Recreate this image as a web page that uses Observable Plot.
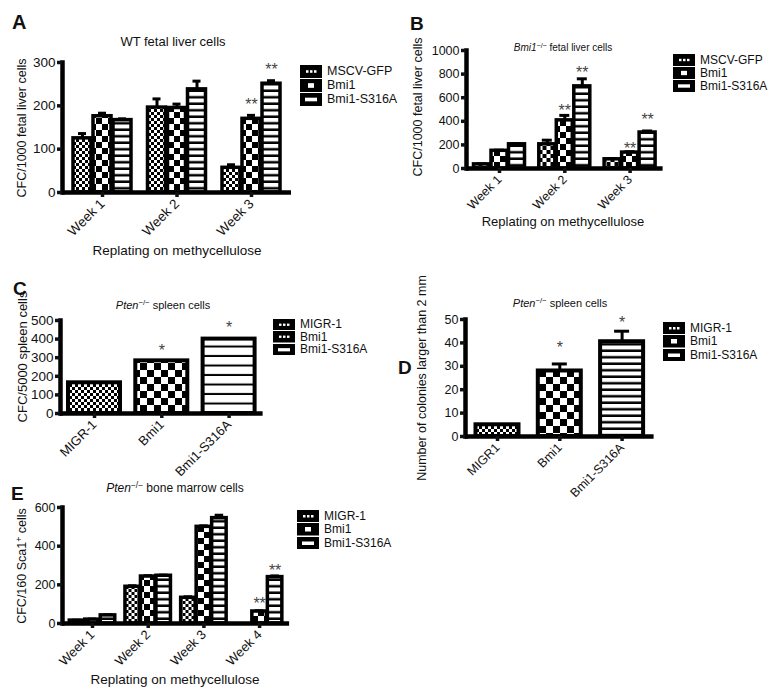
<!DOCTYPE html>
<html><head><meta charset="utf-8">
<script src="https://cdn.jsdelivr.net/npm/d3@7"></script>
<script src="https://cdn.jsdelivr.net/npm/@observablehq/plot@0.6"></script>
<style>
body{margin:0;background:#fff;font-family:"Liberation Sans",Arial,sans-serif;color:#111;}
#fig{position:relative;width:772px;height:693px;overflow:hidden;background:#fff;}
.abs{position:absolute;white-space:nowrap;line-height:1;}
.c{transform:translate(-50%,-50%);}
.yl{transform:translate(-50%,-50%) rotate(-90deg);}
.letter{font-weight:bold;font-size:20px;}
.leg{position:absolute;font-size:12px;line-height:1;}
.leg .row{display:flex;align-items:center;height:13.5px;}
.leg svg{margin-right:5px;display:block;}
sup{font-size:0.7em;vertical-align:0.45em;line-height:0;}
.plotbox{position:absolute;}
</style></head><body>
<svg width="0" height="0" style="position:absolute">
<defs>
<pattern id="pChk3" width="6" height="6" patternUnits="userSpaceOnUse"><rect width="6" height="6" fill="#000"/><rect width="3" height="3" fill="#fff"/><rect x="3" y="3" width="3" height="3" fill="#fff"/></pattern>
<pattern id="pChk4" width="8" height="8" patternUnits="userSpaceOnUse"><rect width="8" height="8" fill="#000"/><rect width="4" height="4" fill="#fff"/><rect x="4" y="4" width="4" height="4" fill="#fff"/></pattern>
<pattern id="pChk6" width="12" height="12" patternUnits="userSpaceOnUse"><rect width="12" height="12" fill="#000"/><rect width="6" height="6" fill="#fff"/><rect x="6" y="6" width="6" height="6" fill="#fff"/></pattern>
<pattern id="pChk7" width="14" height="14" patternUnits="userSpaceOnUse"><rect width="14" height="14" fill="#000"/><rect width="7" height="7" fill="#fff"/><rect x="7" y="7" width="7" height="7" fill="#fff"/></pattern>
<pattern id="pStr6" width="6" height="6.5" patternUnits="userSpaceOnUse"><rect width="6" height="6.5" fill="#000"/><rect y="0" width="6" height="4" fill="#fff"/></pattern>
<pattern id="pStr9" width="6" height="9.5" patternUnits="userSpaceOnUse"><rect width="6" height="9.5" fill="#000"/><rect y="0" width="6" height="7.5" fill="#fff"/></pattern>
</defs></svg>
<div id="fig"></div>
<script>
// ---------------- DATA ----------------
// Panel A: WT fetal liver cells
const groupsA = ["Week 1", "Week 2", "Week 3"];
const seriesA = ["MSCV-GFP", "Bmi1", "Bmi1-S316A"];
const meanA  = [[125, 196, 57], [176, 195, 170], [167, 238, 251]];
const upperA = [[136, 216, 64], [183, 204, 178], [170, 257, 258]];
const starsA = [["Week 3", "Bmi1", "**", 212], ["Week 3", "Bmi1-S316A", "**", 293]];
const yTicksA = [0, 100, 200, 300];

// Panel B: Bmi1-/- fetal liver cells
const groupsB = ["Week 1", "Week 2", "Week 3"];
const seriesB = ["MSCV-GFP", "Bmi1", "Bmi1-S316A"];
const meanB  = [[35, 205, 78], [150, 408, 135], [205, 696, 305]];
const upperB = [[38, 240, 85], [155, 450, 142], [210, 760, 318]];
const starsB = [["Week 2", "Bmi1", "**", 521], ["Week 2", "Bmi1-S316A", "**", 845],
                ["Week 3", "Bmi1", "**", 197], ["Week 3", "Bmi1-S316A", "**", 442]];
const yTicksB = [0, 200, 400, 600, 800, 1000];

// Panel C: Pten-/- spleen cells (CFC)
const groupsC = ["MIGR-1", "Bmi1", "Bmi1-S316A"];
const legendC = ["MIGR-1", "Bmi1", "Bmi1-S316A"];
const meanC  = [165, 283, 400];
const upperC = [165, 283, 400];
const starsC = [["Bmi1", "Bmi1", "*", 357], ["Bmi1-S316A", "Bmi1-S316A", "*", 482]];
const yTicksC = [0, 100, 200, 300, 400, 500];

// Panel D: Pten-/- spleen cells (colonies > 2 mm)
const groupsD = ["MIGR1", "Bmi1", "Bmi1-S316A"];
const legendD = ["MIGR-1", "Bmi1", "Bmi1-S316A"];
const meanD  = [5, 28, 40.5];
const upperD = [5, 31, 45];
const starsD = [["Bmi1", "Bmi1", "*", 39.7], ["Bmi1-S316A", "Bmi1-S316A", "*", 50.4]];
const yTicksD = [0, 10, 20, 30, 40, 50];

// Panel E: Pten-/- bone marrow cells
const groupsE = ["Week 1", "Week 2", "Week 3", "Week 4"];
const seriesE = ["MIGR-1", "Bmi1", "Bmi1-S316A"];
const meanE  = [[15, 190, 133, 0], [20, 243, 500, 62], [42, 247, 545, 240]];
const upperE = [[17, 195, 138, 0], [23, 247, 505, 66], [45, 250, 560, 246]];
const starsE = [["Week 4", "Bmi1", "**", 120], ["Week 4", "Bmi1-S316A", "**", 293]];
const yTicksE = [0, 200, 400, 600];

// ---------------- BUILD ----------------
const fig = document.getElementById("fig");

function groupedRows(groups, series, mean, upper) {
  const rows = [];
  series.forEach((s, k) => groups.forEach((g, i) => rows.push({group: g, series: s, value: mean[k][i], err: upper[k][i]})));
  return rows;
}
function singleRows(groups, mean, upper) {
  return groups.map((g, i) => ({group: g, series: g, value: mean[i], err: upper[i]}));
}
function starRows(stars) {
  return stars.map(([group, series, text, y]) => ({group, series, text, y}));
}

function panel(L, groups, series, rows, stars, yTicks) {
  const n = groups.length;
  const pi = 1 - L.w / L.step;
  const po = (L.c0 - L.x0 - L.w / 2) / L.step;
  const x1 = L.x0 + L.step * (n - pi + 2 * po);
  const width = Math.ceil(x1 + 14 - L.left);
  const height = Math.ceil(L.yBottom + 62 - L.top);
  const ns = series.length;
  const marks = [];
  series.forEach((s, k) => {
    const dx = L.off * (k - (ns - 1) / 2);
    const sub = rows.filter(d => d.series === s);
    const errs = sub.filter(d => d.err > d.value);
    marks.push(Plot.ruleX(errs, {x: "group", y1: "value", y2: "err", dx, stroke: "#000", strokeWidth: 3}));
    marks.push(Plot.tickY(errs, {x: "group", y: "err", dx, stroke: "#000", strokeWidth: 3, insetLeft: L.capInset, insetRight: L.capInset}));
    marks.push(Plot.barY(sub, {x: "group", y: "value", dx, fill: `url(#${L.pats[k]})`, stroke: "#000", strokeWidth: L.sw, insetLeft: 0, insetRight: 0}));
    const st = stars.filter(d => d.series === s);
    marks.push(Plot.text(st, {x: "group", y: "y", text: "text", dx, dy: 4, fontSize: 16, fill: "#444", lineAnchor: "middle"}));
  });
  marks.push(Plot.ruleY([0], {stroke: "#000", strokeWidth: 4.5}));
  marks.push(Plot.frame({anchor: "left", stroke: "#000", strokeWidth: 4.5}));
  marks.push(Plot.axisY({ticks: yTicks, tickFormat: d => String(d), tickSize: 5, tickPadding: 2, strokeWidth: 3.5, fontSize: L.tickFont, label: null}));
  marks.push(Plot.axisX({tickSize: 5, tickPadding: 4, strokeWidth: 3.5, tickRotate: -45, fontSize: L.xFont, label: null}));
  const svg = Plot.plot({
    width, height,
    marginLeft: L.x0 - L.left,
    marginRight: L.left + width - x1,
    marginTop: L.yTop - L.top,
    marginBottom: L.top + height - L.yBottom,
    style: {background: "transparent", fontFamily: "'Liberation Sans', Arial, sans-serif", color: "#111", overflow: "visible"},
    x: {domain: groups, paddingInner: pi, paddingOuter: po, round: false, label: null},
    y: {domain: [0, yTicks[yTicks.length - 1]], label: null},
    marks
  });
  const box = document.createElement("div");
  box.className = "plotbox";
  box.style.left = L.left + "px";
  box.style.top = L.top + "px";
  box.appendChild(svg);
  fig.appendChild(box);
}

function text(html, x, y, cls, size, extra) {
  const d = document.createElement("div");
  d.className = "abs " + cls;
  d.style.left = x + "px";
  d.style.top = y + "px";
  d.style.fontSize = size + "px";
  if (extra) Object.assign(d.style, extra);
  d.innerHTML = html;
  fig.appendChild(d);
}

function legend(labels, kinds, x, y, size, rowH) {
  const d = document.createElement("div");
  d.className = "leg";
  d.style.left = x + "px";
  d.style.top = y + "px";
  d.style.fontSize = size + "px";
  labels.forEach((lab, i) => {
    const r = document.createElement("div");
    r.className = "row";
    r.style.height = rowH + "px";
    let inner = "";
    if (kinds[i] === "dots") inner = '<rect x="6" y="5" width="2.5" height="2.5" fill="#fff"/><rect x="10" y="5" width="2.5" height="2.5" fill="#fff"/><rect x="14" y="5" width="2.5" height="2.5" fill="#fff"/>';
    else if (kinds[i] === "square") inner = '<rect x="8" y="4" width="6" height="4.5" fill="#fff"/>';
    else inner = '<rect x="5" y="4.5" width="12" height="3.5" fill="#fff"/>';
    r.innerHTML = `<svg width="22" height="${rowH - 1}" viewBox="0 0 22 12.5" preserveAspectRatio="none"><rect width="22" height="12.5" fill="#000"/>${inner}</svg><span>${lab}</span>`;
    d.appendChild(r);
  });
  fig.appendChild(d);
}

// layouts (positions / sizes, kept apart from the data)
const LA = {left: 0, top: 40, x0: 62, yTop: 62, yBottom: 192, c0: 102, step: 74.5, w: 18, off: 20, tickFont: 13.5, xFont: 13.5, sw: 3.5, capInset: 5, pats: ["pChk3", "pChk6", "pStr6"]};
const LB = {left: 392, top: 30, x0: 466, yTop: 50, yBottom: 168, c0: 499, step: 65.3, w: 16, off: 17.5, tickFont: 12.5, xFont: 12.5, sw: 3.5, capInset: 3, pats: ["pChk4", "pChk6", "pStr6"]};
const LC = {left: 0, top: 300, x0: 60, yTop: 320, yBottom: 413, c0: 94, step: 67.3, w: 52, off: 0, tickFont: 13.5, xFont: 13, sw: 4, capInset: 18, pats: ["pChk3", "pChk7", "pStr9"]};
const LD = {left: 392, top: 300, x0: 465, yTop: 319, yBottom: 436, c0: 497, step: 62.3, w: 43, off: 0, tickFont: 12.5, xFont: 12.5, sw: 4, capInset: 14, pats: ["pChk3", "pChk7", "pStr6"]};
const LE = {left: 0, top: 490, x0: 62, yTop: 507, yBottom: 623, c0: 92, step: 55.7, w: 14.5, off: 15.5, tickFont: 12.5, xFont: 13, sw: 3.5, capInset: 3, pats: ["pChk3", "pChk6", "pStr6"]};

panel(LA, groupsA, seriesA, groupedRows(groupsA, seriesA, meanA, upperA), starRows(starsA), yTicksA);
panel(LB, groupsB, seriesB, groupedRows(groupsB, seriesB, meanB, upperB), starRows(starsB), yTicksB);
panel(LC, groupsC, groupsC, singleRows(groupsC, meanC, upperC), starRows(starsC), yTicksC);
panel(LD, groupsD, groupsD, singleRows(groupsD, meanD, upperD), starRows(starsD), yTicksD);
panel(LE, groupsE, seriesE, groupedRows(groupsE, seriesE, meanE, upperE), starRows(starsE), yTicksE);

// panel letters
text("A", 12, 12, "letter", 20);
text("B", 410, 14, "letter", 19);
text("C", 13, 279, "letter", 19);
text("D", 398, 358, "letter", 19);
text("E", 11, 484, "letter", 19);

// titles
text("WT fetal liver cells", 173, 41, "c", 13);
text("<i>Bmi1</i><sup>−/−</sup> fetal liver cells", 563, 48, "c", 10);
text("<i>Pten</i><sup>−/−</sup> spleen cells", 163, 305, "c", 11);
text("<i>Pten</i><sup>−/−</sup> spleen cells", 560, 303, "c", 11);
text("<i>Pten</i><sup>−/−</sup> bone marrow cells", 175, 488, "c", 12);

// axis titles
text("CFC/1000 fetal liver cells", 22, 128, "yl", 12.5);
text("CFC/1000 fetal liver cells", 418, 107, "yl", 12.5);
text("CFC/5000 spleen cells", 22, 357, "yl", 13);
text("Number of colonies larger than 2 mm", 422, 378, "yl", 12.5);
text("CFC/160 Sca1<sup>+</sup> cells", 22, 566, "yl", 12.5);
text("Replating on methycellulose", 177, 251, "c", 13.5);
text("Replating on methycellulose", 563, 221, "c", 13);
text("Replating on methycellulose", 175, 680, "c", 13.5);

// legends
legend(seriesA, ["dots", "square", "bar"], 300, 64, 12.5, 14);
legend(seriesB, ["dots", "square", "bar"], 673, 53, 12, 13);
legend(legendC, ["dots", "dots", "bar"], 273, 318, 12, 12.5);
legend(legendD, ["dots", "square", "bar"], 663, 321, 12, 13.5);
legend(seriesE, ["dots", "square", "bar"], 297, 509, 12, 13.5);
</script>
</body></html>
